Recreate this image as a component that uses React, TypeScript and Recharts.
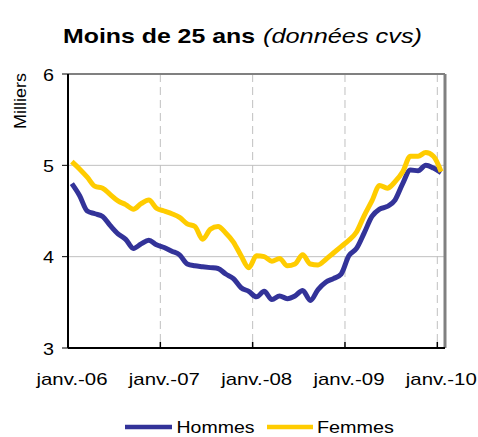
import { LineChart, Line, XAxis, YAxis, CartesianGrid, ReferenceLine } from 'recharts'

// chômeurs de moins de 25 ans, milliers, mensuel janv.-06 -> janv.-10
const hommes = [
  4.80, 4.67, 4.50, 4.47, 4.44, 4.34, 4.25, 4.19, 4.09, 4.14, 4.18, 4.13,
  4.10, 4.06, 4.02, 3.92, 3.90, 3.89, 3.88, 3.87, 3.81, 3.76, 3.66, 3.62,
  3.56, 3.62, 3.53, 3.57, 3.54, 3.57, 3.63, 3.52, 3.64, 3.72, 3.76, 3.81,
  4.01, 4.09, 4.26, 4.44, 4.52, 4.55, 4.62, 4.80, 4.95, 4.94, 5.00, 4.97,
  4.92,
]
const femmes = [
  5.04, 4.96, 4.87, 4.77, 4.75, 4.68, 4.61, 4.57, 4.52, 4.58, 4.62, 4.53,
  4.50, 4.47, 4.43, 4.36, 4.33, 4.19, 4.30, 4.33, 4.26, 4.16, 4.01, 3.88,
  4.01, 4.00, 3.95, 3.98, 3.90, 3.92, 4.02, 3.92, 3.91, 3.97, 4.04, 4.11,
  4.18, 4.27, 4.45, 4.61, 4.78, 4.75, 4.82, 4.93, 5.10, 5.10, 5.14, 5.10,
  4.93,
]
const yearTicks = [0, 12, 24, 36, 48]
const yearLabels = ['janv.-06', 'janv.-07', 'janv.-08', 'janv.-09', 'janv.-10']
const yTicks = [3, 4, 5, 6]

const data = hommes.map((h, i) => ({ t: i + 0.5, hommes: h, femmes: femmes[i] }))

const FONT = '"Liberation Sans", Arial, sans-serif'
const BLUE = '#333399'
const YELLOW = '#FFCC00'

function XTick({ x, y, payload }: any) {
  const label = yearLabels[yearTicks.indexOf(payload.value)]
  return (
    <g>
      <line x1={x} x2={x} y1={y} y2={y - 6} stroke="#000" strokeWidth={1.5} />
      <text
        x={x + 4}
        y={y + 37}
        textAnchor="middle"
        fontSize={17}
        fontFamily={FONT}
        fill="#000"
        textLength={71}
        lengthAdjust="spacingAndGlyphs"
      >
        {label}
      </text>
    </g>
  )
}

function YTick({ x, y, payload }: any) {
  return (
    <text
      x={x}
      y={y + 1}
      textAnchor="end"
      dominantBaseline="central"
      fontSize={17}
      fontFamily={FONT}
      fill="#000"
      textLength={11}
      lengthAdjust="spacingAndGlyphs"
    >
      {payload.value}
    </text>
  )
}

export default function App() {
  return (
    <div style={{ position: 'absolute', left: 0, top: 0, width: 478, height: 437, background: '#fff' }}>
      <LineChart width={478} height={437} data={data} margin={{ top: 74, right: 33, bottom: 0, left: 0 }}>
        <CartesianGrid vertical={false} stroke="#c0c0c0" />
        <CartesianGrid horizontal={false} stroke="#c0c0c0" strokeDasharray="8 5" />
        <XAxis
          type="number"
          dataKey="t"
          domain={[0, 49]}
          ticks={yearTicks}
          interval={0}
          height={89}
          tickSize={0}
          tickMargin={0}
          tickLine={false}
          axisLine={{ stroke: '#000', strokeWidth: 2 }}
          tick={<XTick />}
        />
        <YAxis
          type="number"
          domain={[3, 6]}
          ticks={yTicks}
          width={68}
          tickSize={6}
          tickMargin={8}
          tickLine={{ stroke: '#000' }}
          axisLine={{ stroke: '#000', strokeWidth: 2 }}
          tick={<YTick />}
        />
        <ReferenceLine y={6} stroke="#808080" strokeWidth={2} />
        <ReferenceLine x={49} stroke="#808080" strokeWidth={3} />
        <Line
          type="monotone"
          dataKey="hommes"
          stroke={BLUE}
          strokeWidth={5}
          dot={false}
          activeDot={false}
          isAnimationActive={false}
        />
        <Line
          type="monotone"
          dataKey="femmes"
          stroke={YELLOW}
          strokeWidth={5}
          dot={false}
          activeDot={false}
          isAnimationActive={false}
        />
      </LineChart>
      <svg width={478} height={437} style={{ position: 'absolute', left: 0, top: 0, pointerEvents: 'none' }}>
        <text x={63} y={43} fontSize={21} fontWeight="bold" fontFamily={FONT} fill="#000" textLength={192} lengthAdjust="spacingAndGlyphs">
          Moins de 25 ans
        </text>
        <text x={263} y={43} fontSize={21} fontStyle="italic" fontFamily={FONT} fill="#000" textLength={159} lengthAdjust="spacingAndGlyphs">
          (données cvs)
        </text>
        <text x={26} y={101} transform="rotate(-90, 26, 101)" textAnchor="middle" fontSize={17} fontFamily={FONT} fill="#000" textLength={56} lengthAdjust="spacingAndGlyphs">
          Milliers
        </text>
        <line x1={125} x2={172} y1={427} y2={427} stroke={BLUE} strokeWidth={4.5} />
        <text x={176.5} y={433} fontSize={17} fontFamily={FONT} fill="#000" textLength={78} lengthAdjust="spacingAndGlyphs">
          Hommes
        </text>
        <line x1={267} x2={313} y1={427} y2={427} stroke={YELLOW} strokeWidth={4.5} />
        <text x={317} y={433} fontSize={17} fontFamily={FONT} fill="#000" textLength={77} lengthAdjust="spacingAndGlyphs">
          Femmes
        </text>
      </svg>
    </div>
  )
}
